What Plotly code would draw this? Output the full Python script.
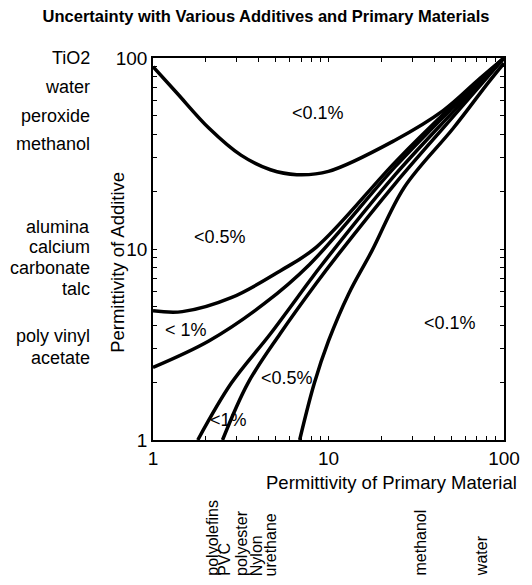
import math
import plotly.graph_objects as go

# ---- data ----
curve_a_x = [1, 1.36, 2.08, 3.17, 4.67, 6.6, 10, 23.8, 45, 72.7, 100]
curve_a_y = [90, 66, 43, 31, 26, 24.5, 25.5, 37, 53, 78, 100]

curve_b_x = [1, 1.47, 2.79, 5.3, 8.5, 24, 50, 100]
curve_b_y = [4.75, 4.7, 5.56, 7.68, 10.2, 28.5, 55.5, 100]

curve_c_x = [1, 2.08, 4.3, 7.8, 24, 50, 100]
curve_c_y = [2.4, 3.3, 5.17, 8.3, 27, 54, 100]

curve_d_x = [1.8, 2.79, 4.67, 7.8, 9.1, 24, 50, 100]
curve_d_y = [1, 1.98, 3.6, 6.8, 8.2, 24.5, 51, 100]

curve_e_x = [2.49, 3.47, 5.3, 8.5, 11.4, 24, 50, 100]
curve_e_y = [1, 1.98, 3.6, 6.6, 9.4, 22, 48, 100]

curve_f_x = [6.85, 8.3, 10, 13, 17.7, 27, 51.5, 82, 100]
curve_f_y = [1, 1.98, 3.3, 5.8, 9.8, 21, 43, 75, 94]

region_text = ["<0.1%", "<0.5%", "< 1%", "<0.5%", "<1%", "<0.1%"]
region_x = [8.7, 2.42, 1.55, 5.8, 2.69, 49]
region_y = [51.5, 11.6, 3.77, 2.11, 1.27, 4.1]

additive_names = ["TiO2", "water", "peroxide", "methanol", "alumina", "calcium",
                  "carbonate", "talc", "poly vinyl", "acetate", "air"]
additive_pos = [100, 70.5, 49.7, 35.5, 13.0, 10.2, 7.94, 6.17, 3.5, 2.69, 0.965]

primary_names = ["polyolefins", "PVC", "polyester", "Nylon", "urethane", "methanol", "water"]
primary_pos = [2.16, 2.55, 3.17, 3.9, 4.7, 33, 74.6]

tick_vals = [1, 2, 3, 4, 5, 6, 7, 8, 9, 10, 20, 30, 40, 50, 60, 70, 80, 90, 100]
tick_text = ["1", "", "", "", "", "", "", "", "", "10", "", "", "", "", "", "", "", "", "100"]

title_text = "Uncertainty with Various Additives and Primary Materials"
x_title = "Permittivity of Primary Material"
y_title = "Permittivity of Additive"

FONT = "Liberation Sans, Arial, sans-serif"
W, H = 532, 585
L, R, T, B = 153, 512, 58, 440


def px(xp):
    return (xp - L) / (R - L)


def py(yp):
    return (B - yp) / (B - T)


fig = go.Figure()
for cx, cy in [(curve_a_x, curve_a_y), (curve_b_x, curve_b_y), (curve_c_x, curve_c_y),
               (curve_d_x, curve_d_y), (curve_e_x, curve_e_y), (curve_f_x, curve_f_y)]:
    fig.add_trace(go.Scatter(x=cx, y=cy, mode="lines",
                             line=dict(color="black", width=3.5, shape="spline", smoothing=1.0),
                             showlegend=False, hoverinfo="skip", cliponaxis=True))

annotations = []
for t, x, y in zip(region_text, region_x, region_y):
    annotations.append(dict(text=t, x=math.log10(x), y=math.log10(y), xref="x", yref="y",
                            xanchor="center", yanchor="middle", showarrow=False,
                            font=dict(family=FONT, size=18, color="black")))

for t, y in zip(additive_names, additive_pos):
    annotations.append(dict(text=t, x=px(91), y=math.log10(y), xref="paper", yref="y",
                            xanchor="right", yanchor="middle", showarrow=False,
                            font=dict(family=FONT, size=18, color="black")))

for t, x in zip(primary_names, primary_pos):
    annotations.append(dict(text=t, x=math.log10(x), y=py(578), xref="x", yref="paper",
                            xanchor="center", yanchor="bottom", textangle=-90, showarrow=False,
                            font=dict(family=FONT, size=16, color="black")))

annotations.append(dict(text=x_title, x=px(397), y=py(483), xref="paper", yref="paper",
                        xanchor="center", yanchor="middle", showarrow=False,
                        font=dict(family=FONT, size=18.5, color="black")))

annotations.append(dict(text=y_title, x=px(116), y=py(262), xref="paper", yref="paper",
                        xanchor="center", yanchor="middle", textangle=-90, showarrow=False,
                        font=dict(family=FONT, size=18.5, color="black")))

axis_common = dict(type="log", range=[0, 2], tickvals=tick_vals, ticktext=tick_text,
                   ticks="inside", ticklen=4, tickwidth=1, tickcolor="black",
                   showline=True, linecolor="black", linewidth=1.5, mirror="ticks",
                   showgrid=False, zeroline=False,
                   tickfont=dict(family=FONT, size=19, color="black"))

fig.update_layout(
    width=W, height=H,
    margin=dict(l=L, r=W - R, t=T, b=H - B),
    paper_bgcolor="white", plot_bgcolor="white",
    title=dict(text="<b>" + title_text + "</b>", x=0.5, xanchor="center",
               y=1 - 16 / H, yanchor="middle",
               font=dict(family=FONT, size=16.5, color="black")),
    xaxis=dict(**axis_common),
    yaxis=dict(**axis_common),
    annotations=annotations,
)

fig.write_html("out.html")
